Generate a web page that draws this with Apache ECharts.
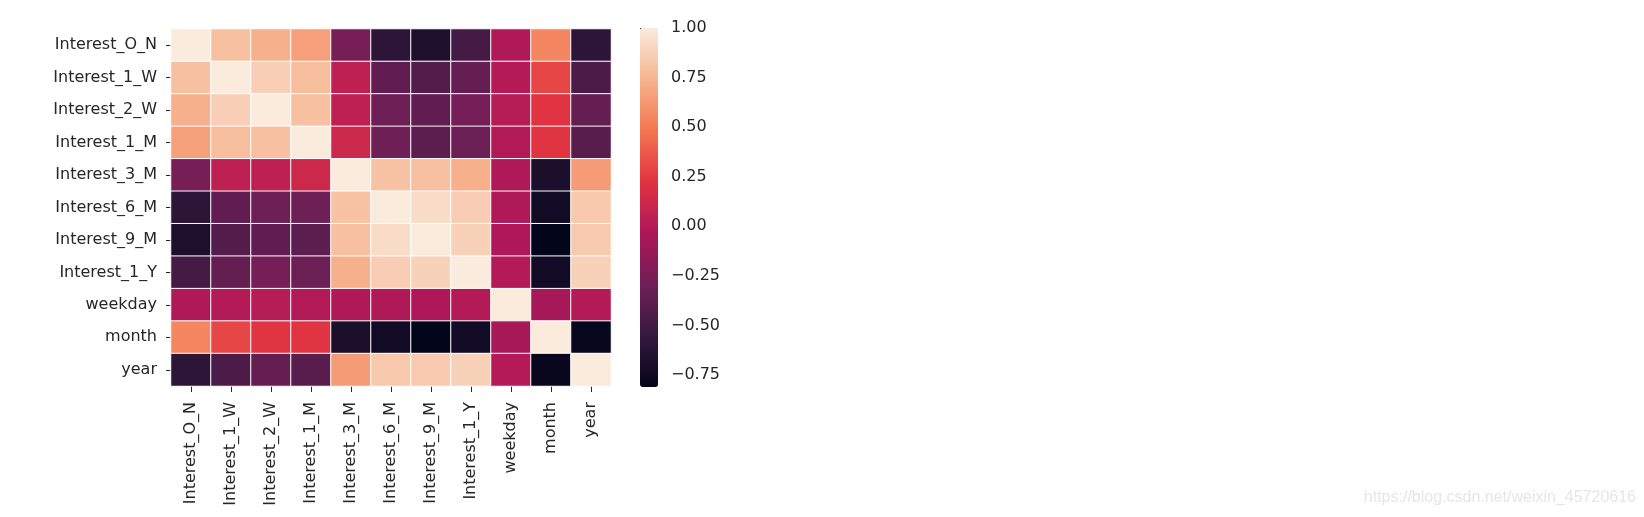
<!DOCTYPE html>
<html>
<head>
<meta charset="utf-8">
<script src="https://cdn.jsdelivr.net/npm/echarts@6/dist/echarts.min.js"></script>
<style>
html,body{margin:0;padding:0;background:#fff;}
#chart{width:1644px;height:517px;}
</style>
</head>
<body>
<div id="chart"></div>
<script>
const categories = ['Interest_O_N','Interest_1_W','Interest_2_W','Interest_1_M','Interest_3_M','Interest_6_M','Interest_9_M','Interest_1_Y','weekday','month','year'];

const row_Interest_O_N = [1.00, 0.80, 0.73, 0.66, -0.26, -0.60, -0.67, -0.48, -0.02, 0.55, -0.60];
const row_Interest_1_W = [0.80, 1.00, 0.87, 0.79, 0.05, -0.36, -0.42, -0.34, 0.00, 0.30, -0.45];
const row_Interest_2_W = [0.73, 0.87, 1.00, 0.80, 0.05, -0.30, -0.36, -0.27, 0.01, 0.23, -0.34];
const row_Interest_1_M = [0.66, 0.79, 0.80, 1.00, 0.12, -0.30, -0.38, -0.31, -0.01, 0.23, -0.40];
const row_Interest_3_M = [-0.26, 0.05, 0.05, 0.12, 1.00, 0.81, 0.80, 0.73, -0.02, -0.68, 0.64];
const row_Interest_6_M = [-0.60, -0.36, -0.30, -0.30, 0.81, 1.00, 0.93, 0.86, -0.02, -0.73, 0.84];
const row_Interest_9_M = [-0.67, -0.42, -0.36, -0.38, 0.80, 0.93, 1.00, 0.88, -0.03, -0.81, 0.85];
const row_Interest_1_Y = [-0.48, -0.34, -0.27, -0.31, 0.73, 0.86, 0.88, 1.00, 0.00, -0.73, 0.88];
const row_weekday      = [-0.02, 0.00, 0.01, -0.01, -0.02, -0.02, -0.03, 0.00, 1.00, -0.06, 0.00];
const row_month        = [0.55, 0.30, 0.23, 0.23, -0.68, -0.73, -0.81, -0.73, -0.06, 1.00, -0.78];
const row_year         = [-0.60, -0.45, -0.34, -0.40, 0.64, 0.84, 0.85, 0.88, 0.00, -0.78, 1.00];

const colorbarTicks = [-0.75, -0.50, -0.25, 0.00, 0.25, 0.50, 0.75, 1.00];
const colorMin = -0.81;
const colorMax = 1.0;

const rows = [row_Interest_O_N,row_Interest_1_W,row_Interest_2_W,row_Interest_1_M,row_Interest_3_M,row_Interest_6_M,row_Interest_9_M,row_Interest_1_Y,row_weekday,row_month,row_year];

const rocket = ['#03051a','#35193e','#701f57','#ad1759','#e13342','#f37651','#f6b48f','#faebdd'];

const data = [];
rows.forEach((r, yi) => r.forEach((v, xi) => data.push([xi, yi, v])));

const FONT = 'DejaVu Sans';
const TXT = '#262626';

const chart = echarts.init(document.getElementById('chart'));
chart.setOption({
  animation: false,
  backgroundColor: '#fff',
  grid: [
    {left: 171, top: 29, width: 440, height: 357},
    {left: 640, top: 28, width: 18, height: 359}
  ],
  xAxis: [
    {
      type: 'category', data: categories, gridIndex: 0, position: 'bottom',
      axisLine: {show: false},
      axisTick: {show: true, alignWithLabel: true, length: 6, lineStyle: {color: TXT}},
      axisLabel: {rotate: 90, margin: 16, fontSize: 16, fontFamily: FONT, color: TXT, interval: 0},
      splitLine: {show: false}
    },
    {type: 'value', gridIndex: 1, show: false, min: 0, max: 1}
  ],
  yAxis: [
    {
      type: 'category', data: categories, gridIndex: 0, inverse: true,
      axisLine: {show: false},
      axisTick: {show: true, alignWithLabel: true, length: 5, lineStyle: {color: TXT}},
      axisLabel: {margin: 14, fontSize: 16, fontFamily: FONT, color: TXT, interval: 0},
      splitLine: {show: false}
    },
    {
      type: 'value', gridIndex: 1, position: 'right', min: colorMin, max: colorMax,
      axisLine: {show: false},
      splitLine: {show: false},
      axisTick: {show: true, length: 5, customValues: colorbarTicks, lineStyle: {color: TXT}},
      axisLabel: {
        show: true, margin: 13, fontSize: 16, fontFamily: FONT, color: TXT,
        customValues: colorbarTicks,
        formatter: v => (v < 0 ? '\u2212' : '') + Math.abs(v).toFixed(2)
      }
    }
  ],
  visualMap: {
    type: 'continuous', min: colorMin, max: colorMax, seriesIndex: 0,
    calculable: false, realtime: false, hoverLink: false,
    left: 640, top: 28, itemWidth: 18, itemHeight: 359, padding: 0,
    text: null, showLabel: false,
    inRange: {color: rocket}
  },
  series: [{
    type: 'heatmap', xAxisIndex: 0, yAxisIndex: 0, data: data,
    itemStyle: {borderColor: '#ffffff', borderWidth: 1},
    emphasis: {disabled: true}
  }],
  graphic: [{
    type: 'text', right: 8, top: 490,
    style: {text: 'https://blog.csdn.net/weixin_45720616', fontSize: 16, fontFamily: 'Liberation Sans', fill: '#e6e6e6'}
  }]
});
</script>
</body>
</html>
